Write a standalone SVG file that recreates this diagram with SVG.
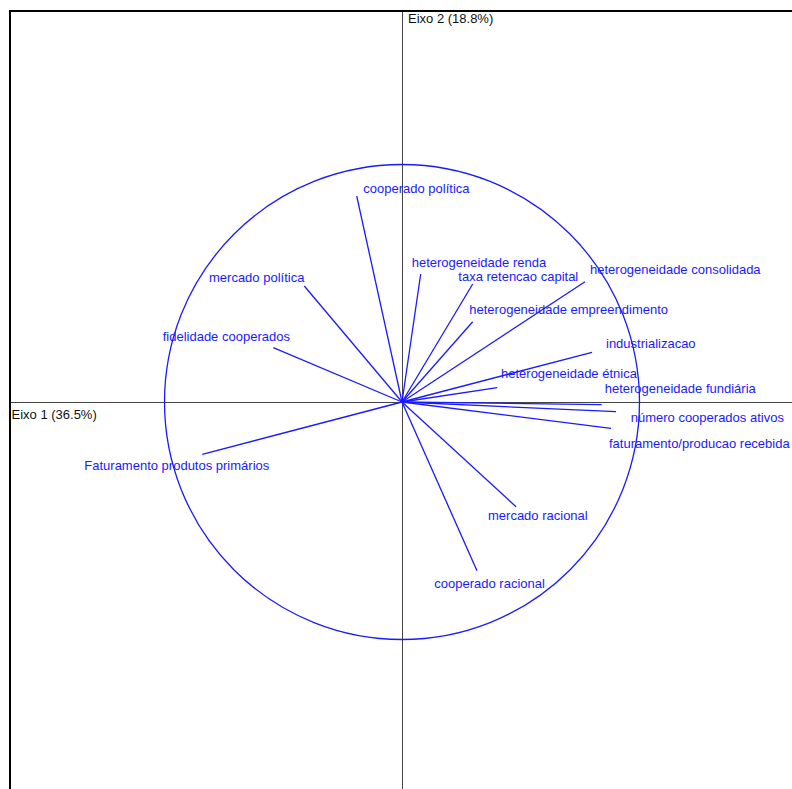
<svg xmlns="http://www.w3.org/2000/svg" width="792" height="789" viewBox="0 0 792 789">
<style>
.lbl{font-family:"Liberation Sans",Arial,sans-serif;font-size:13px;fill:#1a1aff}
.ax{font-family:"Liberation Sans",Arial,sans-serif;font-size:13px;fill:#111}
.vec{stroke:#1a1aff;stroke-width:1.3;fill:none}
.axis{stroke:#444;stroke-width:1;fill:none}
</style>
<rect width="792" height="789" fill="#fff"/>
<g id="frame">
<line x1="10" y1="11" x2="10" y2="789" stroke="#000" stroke-width="2"/>
<line x1="9" y1="11" x2="792" y2="11" stroke="#000" stroke-width="2"/>
</g>
<g id="axes">
<line class="axis" x1="402.5" y1="12" x2="402.5" y2="789"/>
<line class="axis" x1="11" y1="402.5" x2="792" y2="402.5"/>
<text class="ax" x="408" y="22.5">Eixo 2 (18.8%)</text>
<text class="ax" x="11.5" y="418.5">Eixo 1 (36.5%)</text>
</g>
<g id="circle">
<circle cx="402" cy="402" r="237.5" class="vec"/>
</g>
<g id="connectors">
<line class="vec" x1="402" y1="402" x2="356.7" y2="196"/>
<line class="vec" x1="402" y1="402" x2="304.3" y2="286"/>
<line class="vec" x1="402" y1="402" x2="273.3" y2="347.7"/>
<line class="vec" x1="402" y1="402" x2="202.3" y2="454.3"/>
<line class="vec" x1="402" y1="402" x2="420.7" y2="274"/>
<line class="vec" x1="402" y1="402" x2="472.7" y2="284"/>
<line class="vec" x1="402" y1="402" x2="585" y2="281.7"/>
<line class="vec" x1="402" y1="402" x2="472.7" y2="321.7"/>
<line class="vec" x1="402" y1="402" x2="592" y2="352.3"/>
<line class="vec" x1="402" y1="402" x2="497.3" y2="387.7"/>
<line class="vec" x1="402" y1="402" x2="601.7" y2="404.7"/>
<line class="vec" x1="402" y1="402" x2="616" y2="411.7"/>
<line class="vec" x1="402" y1="402" x2="611" y2="428.3"/>
<line class="vec" x1="402" y1="402" x2="516" y2="506.7"/>
<line class="vec" x1="402" y1="402" x2="477" y2="570.7"/>
</g>
<g id="cooperado-politica"><text class="lbl" x="363.3" y="193">cooperado política</text></g>
<g id="mercado-politica"><text class="lbl" x="209" y="282">mercado política</text></g>
<g id="fidelidade-cooperados"><text class="lbl" x="162.7" y="341">fidelidade cooperados</text></g>
<g id="faturamento-produtos-primarios"><text class="lbl" x="84.3" y="470">Faturamento produtos primários</text></g>
<g id="heterogeneidade-renda"><text class="lbl" x="411.7" y="267">heterogeneidade renda</text></g>
<g id="taxa-retencao-capital"><text class="lbl" x="458.3" y="281">taxa retencao capital</text></g>
<g id="heterogeneidade-consolidada"><text class="lbl" x="590" y="274">heterogeneidade consolidada</text></g>
<g id="heterogeneidade-empreendimento"><text class="lbl" x="469.3" y="314">heterogeneidade empreendimento</text></g>
<g id="industrializacao"><text class="lbl" x="606" y="347.5">industrializacao</text></g>
<g id="heterogeneidade-etnica"><text class="lbl" x="501" y="378">heterogeneidade étnica</text></g>
<g id="heterogeneidade-fundiaria"><text class="lbl" x="604.7" y="392.5">heterogeneidade fundiária</text></g>
<g id="numero-cooperados-ativos"><text class="lbl" x="630.7" y="422">número cooperados ativos</text></g>
<g id="faturamento-producao-recebida"><text class="lbl" x="609" y="447.5">faturamento/producao recebida</text></g>
<g id="mercado-racional"><text class="lbl" x="488" y="520">mercado racional</text></g>
<g id="cooperado-racional"><text class="lbl" x="434.3" y="588">cooperado racional</text></g>
</svg>
